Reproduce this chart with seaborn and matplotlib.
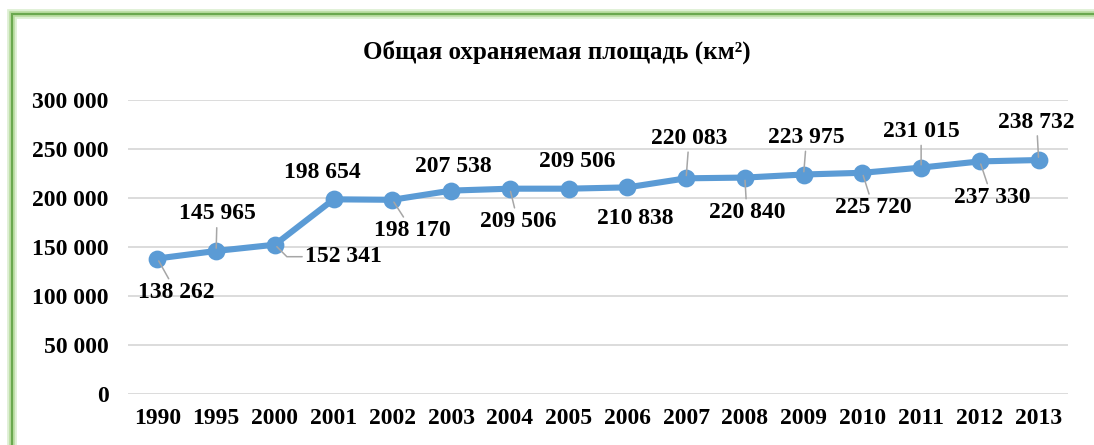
import matplotlib
matplotlib.use("Agg")
import matplotlib.pyplot as plt
import matplotlib.patches as mpatches
from matplotlib.ticker import FuncFormatter
import pandas as pd
import seaborn as sns

YEARS = ["1990", "1995", "2000", "2001", "2002", "2003", "2004", "2005",
         "2006", "2007", "2008", "2009", "2010", "2011", "2012", "2013"]
AREA = [138262, 145965, 152341, 198654, 198170, 207538, 209506, 209506,
        210838, 220083, 220840, 223975, 225720, 231015, 237330, 238732]
TITLE = "Общая охраняемая площадь (км²)"
Y_TICKS = [0, 50000, 100000, 150000, 200000, 250000, 300000]

# label offsets from each point, in pixels (dx right, dy down)
LABEL_OFFSETS = [(19, 34), (1, -37), (69, 12), (-11, -27), (20, 31), (2, -24),
                 (8, 33), (9, -27), (8, 31), (3, -40), (2, 35), (3, -37),
                 (11, 35), (0, -36), (12, 36), (-2, -38)]
# labels sitting close to their point get no leader line
NO_LEADER = {"2001", "2003", "2005", "2006"}
# the 2000 label has a bent leader line
BENT_LEADER = "2000"

LINE_COLOR = "#5B9BD5"
GRID_COLOR = "#D9D9D9"
LEADER_COLOR = "#A6A6A6"

sns.set_style("white")
plt.rcParams["font.family"] = ["Liberation Serif", "DejaVu Serif"]
plt.rcParams["font.weight"] = "bold"
plt.rcParams["text.color"] = "black"
plt.rcParams["xtick.color"] = "black"
plt.rcParams["ytick.color"] = "black"

fmt = lambda v: f"{v:,.0f}".replace(",", " ")

df = pd.DataFrame({"year": YEARS, "area": AREA})

fig = plt.figure(figsize=(10.94, 4.45), dpi=100)
ax = fig.add_axes([128 / 1094, 51 / 445, 940 / 1094, 294 / 445])

sns.pointplot(data=df, x="year", y="area", color=LINE_COLOR, ax=ax,
              markers="o", markersize=9.5, linewidth=4.4, errorbar=None)

ax.set_ylim(0, 300000)
ax.set_xlim(-0.5, len(YEARS) - 0.5)
ax.set_yticks(Y_TICKS)
ax.yaxis.set_major_formatter(FuncFormatter(lambda v, p: fmt(v)))
ax.grid(axis="y", color=GRID_COLOR, linewidth=1.3)
ax.grid(axis="x", visible=False)
ax.set_axisbelow(True)
for s in ax.spines.values():
    s.set_visible(False)
ax.set_xlabel("")
ax.set_ylabel("")
ax.tick_params(axis="y", length=0, pad=14, labelsize=17, labelcolor="black")
ax.tick_params(axis="x", length=0, pad=10, labelsize=17, labelcolor="black")
for lbl in ax.get_xticklabels() + ax.get_yticklabels():
    lbl.set_fontweight("bold")

for i, (yr, v, (dx, dy)) in enumerate(zip(YEARS, AREA, LABEL_OFFSETS)):
    conn = "angle,angleA=0,angleB=-45,rad=0" if yr == BENT_LEADER else "arc3"
    arrow = None
    if yr not in NO_LEADER:
        arrow = dict(arrowstyle="-", color=LEADER_COLOR, lw=1.1,
                     shrinkA=0, shrinkB=2, connectionstyle=conn)
    ax.annotate(fmt(v), xy=(i, v), xytext=(dx * 0.72, -dy * 0.72),
                textcoords="offset points", ha="center", va="center",
                fontsize=17, fontweight="bold", color="black",
                arrowprops=arrow)

fig.text(557 / 1094, 1 - 52 / 445, TITLE, ha="center", va="center",
         fontsize=18, fontweight="bold", color="black")

# green chart frame with soft glow
for lw, col in [(7, "#DDEFD2"), (4, "#B7DB9E"), (1.5, "#6AA84F")]:
    fig.add_artist(mpatches.Rectangle((12 / 1094, -0.2), 1.2, 0.2 + 1 - 14 / 445,
                                      transform=fig.transFigure, fill=False,
                                      edgecolor=col, linewidth=lw, zorder=0))

fig.savefig("out.png", dpi=100)
